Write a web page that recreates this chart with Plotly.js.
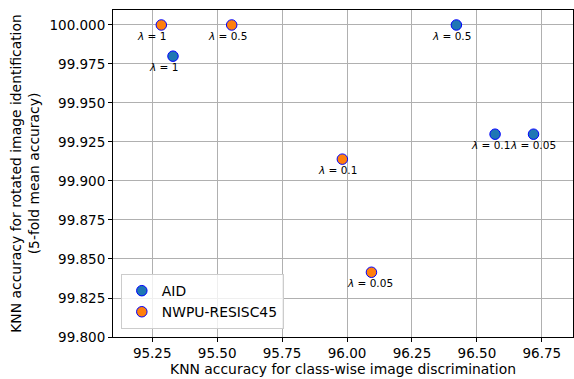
<!DOCTYPE html>
<html><head><meta charset="utf-8">
<script src="https://cdn.plot.ly/plotly-3.0.1.min.js"></script>
<style>html,body{margin:0;padding:0;background:#fff}#chart{width:574px;height:379px}</style>
</head><body><div id="chart"></div>
<script>
const aidX = [95.33, 96.421, 96.57, 96.718];
const aidY = [99.980, 100.000, 99.930, 99.930];
const aidLabels = ["1", "0.5", "0.1", "0.05"];
const nwpuX = [95.285, 95.556, 95.982, 96.094];
const nwpuY = [100.000, 100.000, 99.914, 99.8415];
const nwpuLabels = ["1", "0.5", "0.1", "0.05"];
const xTicks = [95.25, 95.50, 95.75, 96.00, 96.25, 96.50, 96.75];
const yTicks = [99.800, 99.825, 99.850, 99.875, 99.900, 99.925, 99.950, 99.975, 100.000];

const font = "DejaVu Sans, sans-serif";
const annotations = [];
function addLabels(xs, ys, labs) {
  xs.forEach((x, i) => annotations.push({
    x: x, y: ys[i], xref: 'x', yref: 'y', text: '<i>λ</i> = ' + labs[i],
    showarrow: false, xanchor: 'left', yanchor: 'middle', xshift: -26, yshift: -11,
    font: {family: font, size: 10.5, color: '#000'}
  }));
}
addLabels(aidX, aidY, aidLabels);
addLabels(nwpuX, nwpuY, nwpuLabels);

const traces = [
  {x: aidX, y: aidY, mode: 'markers', type: 'scatter', name: 'AID',
   marker: {color: '#1f77b4', size: 10.5, line: {color: '#0000ff', width: 1}}},
  {x: nwpuX, y: nwpuY, mode: 'markers', type: 'scatter', name: 'NWPU-RESISC45',
   marker: {color: '#ff7f0e', size: 10.5, line: {color: '#0000ff', width: 1}}}
];
const axisCommon = {
  showline: true, linecolor: '#000', linewidth: 1, mirror: true,
  ticks: 'outside', ticklen: 4, tickcolor: '#000',
  showgrid: true, gridcolor: '#b0b0b0', gridwidth: 1, zeroline: false,
  tickfont: {family: font, size: 13.5, color: '#000'}
};
const layout = {
  width: 574, height: 379,
  margin: {l: 113, r: 1, t: 10, b: 42},
  paper_bgcolor: '#fff', plot_bgcolor: '#fff',
  font: {family: font, color: '#000'},
  showlegend: true,
  legend: {x: 0.017, y: 0.024, xanchor: 'left', yanchor: 'bottom',
    bgcolor: 'rgba(255,255,255,0.8)', bordercolor: '#cccccc', borderwidth: 1,
    font: {family: font, size: 13.9, color: '#000'}},
  xaxis: Object.assign({}, axisCommon, {
    range: [95.099, 96.870], tickvals: xTicks, ticktext: xTicks.map(v => v.toFixed(2)),
    title: {text: 'KNN accuracy for class-wise image discrimination', font: {family: font, size: 13.9, color: '#000'}, standoff: 4}
  }),
  yaxis: Object.assign({}, axisCommon, {
    range: [99.800, 100.0096], tickvals: yTicks, ticktext: yTicks.map(v => v.toFixed(3)),
    title: {text: 'KNN accuracy for rotated image identification<br>(5-fold mean accuracy)', font: {family: font, size: 13.9, color: '#000'}, standoff: 6}
  }),
  annotations: annotations
};
Plotly.newPlot('chart', traces, layout, {displayModeBar: false, staticPlot: true});
</script></body></html>
